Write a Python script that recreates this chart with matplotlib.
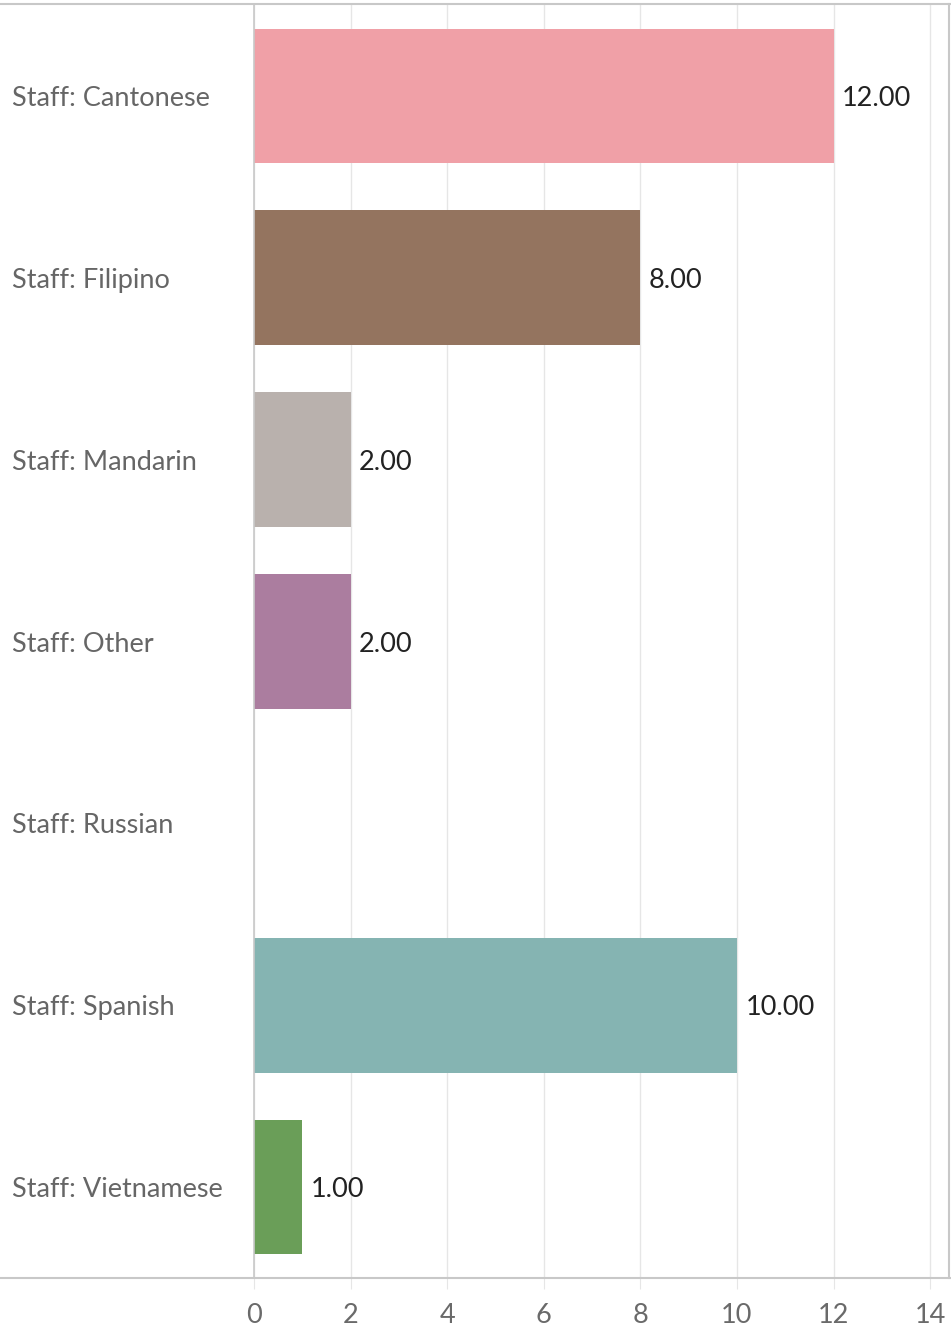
import matplotlib.pyplot as plt
import numpy as np
from matplotlib.lines import Line2D

# data
categories = ['Staff: Cantonese', 'Staff: Filipino', 'Staff: Mandarin', 'Staff: Other',
              'Staff: Russian', 'Staff: Spanish', 'Staff: Vietnamese']
values = [12, 8, 2, 2, np.nan, 10, 1]
colors = ['#F0A0A7', '#94745F', '#B9B1AD', '#AB7D9F', '#FFFFFF', '#85B4B2', '#6A9E58']
xticks = [0, 2, 4, 6, 8, 10, 12, 14]

plt.rcParams['font.family'] = ['Lato', 'DejaVu Sans']

W, H = 951, 1331
fig = plt.figure(figsize=(W / 100, H / 100), dpi=100)
ax = fig.add_axes([254 / W, 1 - 1278 / H, (949 - 254) / W, (1278 - 5) / H])

y = np.arange(len(categories))
vals = np.nan_to_num(values)
ax.barh(y, vals, height=0.74, color=colors, zorder=2)

for yi, v in zip(y, values):
    if not np.isnan(v):
        ax.annotate(f'{v:.2f}', (v, yi), xytext=(6, -2), textcoords='offset points',
                    va='center', ha='left', fontsize=19.5, color='#222222')

ax.set_xlim(0, 14.39)
ax.set_ylim(len(categories) - 0.5, -0.5)

ax.set_xticks(xticks)
ax.set_xticklabels([str(t) for t in xticks], fontsize=19.5, color='#6a6a6a')
ax.tick_params(axis='x', length=8, color='#e6e6e6', pad=10)
ax.grid(axis='x', color='#e6e6e6', linewidth=1, zorder=0)

ax.set_yticks(y)
ax.set_yticklabels(categories, fontsize=19.5, color='#666666', ha='left')
ax.tick_params(axis='y', length=0, pad=242 * 0.72)

for s in ['top', 'right', 'bottom']:
    ax.spines[s].set_visible(False)
ax.spines['left'].set_color('#c8c8c8')
ax.spines['left'].set_linewidth(1.2)

# frame lines across the whole figure
fig.add_artist(Line2D([0, 1], [1 - 4 / H, 1 - 4 / H], color='#c8c8c8', lw=1.5))
fig.add_artist(Line2D([0, 1], [1 - 1278 / H, 1 - 1278 / H], color='#c8c8c8', lw=1.5))
fig.add_artist(Line2D([949 / W, 949 / W], [1 - 1278 / H, 1 - 4 / H], color='#c8c8c8', lw=1.5))

fig.savefig('out.png', dpi=100, facecolor='white')
